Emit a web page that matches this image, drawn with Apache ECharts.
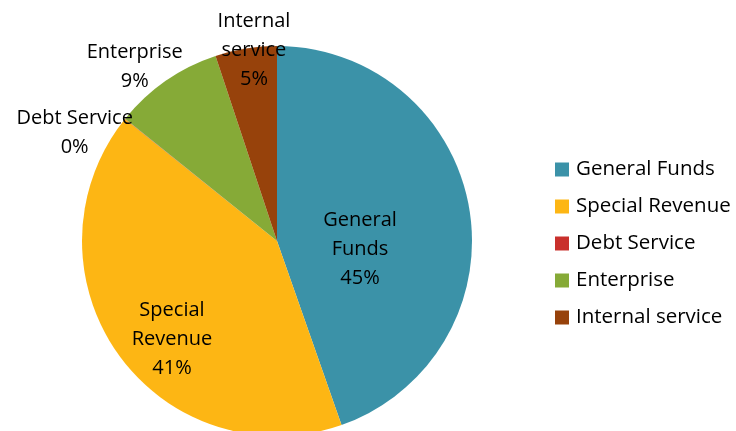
<!DOCTYPE html>
<html>
<head>
<meta charset="utf-8">
<script src="https://cdn.jsdelivr.net/npm/echarts@6/dist/echarts.min.js"></script>
<style>
    html, body { margin: 0; padding: 0; background: #fff; }
    #map1 { width: 736px; height: 431px; }
</style>
</head>
<body>
<div id="map1"></div>
<script>
// fund names and share of the total (percent)
var categories = ['General Funds', 'Special Revenue', 'Debt Service', 'Enterprise', 'Internal service']
var values = [44.6, 41.1, 0.03, 9.1, 5.1]
var colors = ['#3B92A8', '#FDB614', '#C9302C', '#86AA37', '#97420B']

// where each label sits relative to ECharts' inside spot
var labelShift = [[-16, 25], [-23, 40], [-124, -45], [-85, -92], [-7, -91]]
var labelText = ['General\nFunds', 'Special\nRevenue', 'Debt Service', 'Enterprise', 'Internal\nservice']

var charts = echarts.init(document.getElementById('map1'));
var data = categories.map((name, i) => {
    return {
        name: name,
        value: values[i],
        itemStyle: { color: colors[i] },
        label: {
            offset: labelShift[i],
            formatter: function (p) {
                return labelText[i] + '\n' + Math.round(p.percent) + '%'
            }
        }
    }
})
const option = {
    animation: false,
    legend: {
        orient: 'vertical',
        left: 555,
        top: 159,
        padding: 0,
        itemWidth: 14,
        itemHeight: 14,
        itemGap: 16,
        icon: 'rect',
        data: categories,
        textStyle: {
            fontFamily: 'Open Sans',
            fontSize: 20.5,
            color: '#000',
            padding: [0, 0, 0, 2]
        }
    },
    series: [{
        type: 'pie',
        center: [277, 241],
        radius: 195,
        startAngle: 90,
        clockwise: true,
        label: {
            position: 'inside',
            fontFamily: 'Open Sans',
            fontSize: 20,
            lineHeight: 29,
            color: '#000',
            align: 'center'
        },
        labelLine: { show: false },
        emphasis: { disabled: true },
        data: data
    }]
};
charts.setOption(option);
</script>
</body>
</html>
